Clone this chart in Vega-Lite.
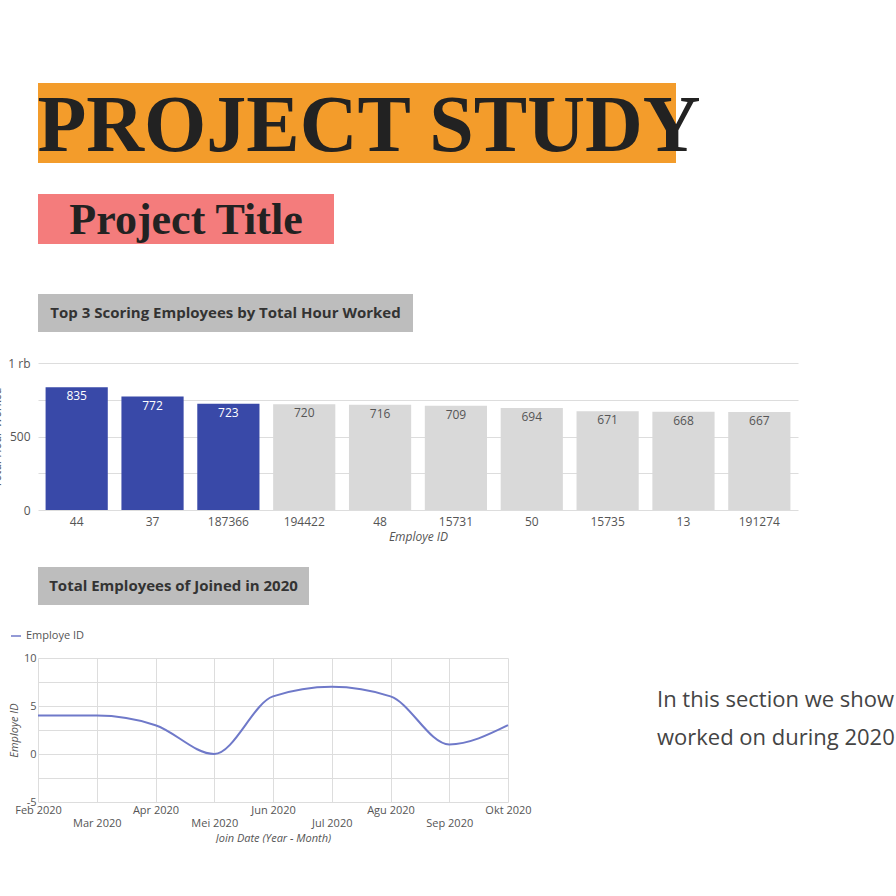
{
  "$schema": "https://vega.github.io/schema/vega-lite/v6.json",
  "background": "white",
  "padding": {"top": 83, "left": -10, "right": 0, "bottom": 0},
  "spacing": 50,
  "resolve": {"scale": {"color": "independent"}},
  "config": {
    "view": {"stroke": null},
    "axis": {"labelColor": "#555", "labelFont": "Open Sans", "labelFontSize": 12, "titleFont": "Open Sans", "titleFontSize": 12, "titleFontStyle": "italic", "titleFontWeight": "normal", "titleColor": "#555", "domain": false, "ticks": false}
  },
  "vconcat": [
    {
      "spacing": 27,
      "vconcat": [
        {
          "width": 638, "height": 80,
          "data": {"values": [{"label": "PROJECT STUDY"}]},
          "layer": [
            {"mark": {"type": "rect", "color": "#f39c2b"}, "encoding": {}},
            {"mark": {"type": "text", "font": "Liberation Serif", "fontWeight": "bold", "fontSize": 80, "color": "#222", "baseline": "middle", "dx": 12, "dy": 4}, "encoding": {"text": {"field": "label"}}}
          ]
        },
        {
          "width": 296, "height": 50,
          "data": {"values": [{"label": "Project Title"}]},
          "layer": [
            {"mark": {"type": "rect", "color": "#f47c7c"}, "encoding": {}},
            {"mark": {"type": "text", "font": "Liberation Serif", "fontWeight": "bold", "fontSize": 44, "color": "#222", "baseline": "middle", "dy": 2}, "encoding": {"text": {"field": "label"}}}
          ]
        }
      ]
    },
    {
      "spacing": 25,
      "resolve": {"scale": {"color": "independent"}},
      "vconcat": [
        {
          "width": 375, "height": 38,
          "data": {"values": [{"label": "Top 3 Scoring Employees by Total Hour Worked"}]},
          "layer": [
            {"mark": {"type": "rect", "color": "#bdbdbd"}, "encoding": {}},
            {"mark": {"type": "text", "font": "Open Sans", "fontWeight": "bold", "fontSize": 15, "color": "#333", "baseline": "middle"}, "encoding": {"text": {"field": "label"}}}
          ]
        },
        {
          "width": 760, "height": 147,
          "data": {"values": [
            {"id": "44", "hours": 835, "top": "yes"},
            {"id": "37", "hours": 772, "top": "yes"},
            {"id": "187366", "hours": 723, "top": "yes"},
            {"id": "194422", "hours": 720, "top": "no"},
            {"id": "48", "hours": 716, "top": "no"},
            {"id": "15731", "hours": 709, "top": "no"},
            {"id": "50", "hours": 694, "top": "no"},
            {"id": "15735", "hours": 671, "top": "no"},
            {"id": "13", "hours": 668, "top": "no"},
            {"id": "191274", "hours": 667, "top": "no"}
          ]},
          "resolve": {"scale": {"color": "independent"}},
          "encoding": {
            "x": {"field": "id", "type": "nominal", "sort": null, "title": "Employe ID", "axis": {"labelAngle": 0, "labelPadding": 6}, "scale": {"paddingInner": 0.18, "paddingOuter": 0.1}},
            "y": {"field": "hours", "type": "quantitative", "title": "Total Hour Worked", "scale": {"domain": [0, 1000]}, "axis": {"values": [0, 250, 500, 750, 1000], "labelExpr": "datum.value == 1000 ? '1 rb' : datum.value % 500 == 0 ? datum.value : ''", "gridColor": "#ddd", "labelPadding": 8}}
          },
          "layer": [
            {"mark": "bar", "encoding": {"color": {"field": "top", "type": "nominal", "scale": {"domain": ["yes", "no"], "range": ["#3949a8", "#d9d9d9"]}, "legend": null}}},
            {"mark": {"type": "text", "baseline": "top", "dy": 4, "font": "Open Sans", "fontSize": 12}, "encoding": {"text": {"field": "hours"}, "color": {"field": "top", "type": "nominal", "scale": {"domain": ["yes", "no"], "range": ["white", "#555"]}, "legend": null}}},
            {"mark": {"type": "rule", "color": "#888"}, "encoding": {"y": {"datum": 0}}}
          ]
        },
        {
          "width": 271, "height": 38,
          "data": {"values": [{"label": "Total Employees of Joined in 2020"}]},
          "layer": [
            {"mark": {"type": "rect", "color": "#bdbdbd"}, "encoding": {}},
            {"mark": {"type": "text", "font": "Open Sans", "fontWeight": "bold", "fontSize": 15, "color": "#333", "baseline": "middle"}, "encoding": {"text": {"field": "label"}}}
          ]
        },
        {
          "spacing": 30,
          "hconcat": [
            {
              "width": 470, "height": 144,
              "data": {"values": [
                {"m": "Feb 2020", "v": 4}, {"m": "Mar 2020", "v": 4}, {"m": "Apr 2020", "v": 3},
                {"m": "Mei 2020", "v": 0}, {"m": "Jun 2020", "v": 6}, {"m": "Jul 2020", "v": 7},
                {"m": "Agu 2020", "v": 6}, {"m": "Sep 2020", "v": 1}, {"m": "Okt 2020", "v": 3}
              ]},
              "encoding": {
                "x": {"field": "m", "type": "ordinal", "sort": null, "title": "Join Date (Year - Month)", "scale": {"type": "point", "padding": 0}, "axis": {"labelAngle": 0, "grid": true, "gridColor": "#ddd", "labelFontSize": 11, "titleFontSize": 11, "labelExpr": "indexof(['Mar 2020','Mei 2020','Jul 2020','Sep 2020'], datum.value) >= 0 ? ['', datum.value] : datum.value"}},
                "y": {"field": "v", "type": "quantitative", "title": "Employe ID", "scale": {"domain": [-5, 10]}, "axis": {"values": [-5, -2.5, 0, 2.5, 5, 7.5, 10], "labelExpr": "datum.value % 5 == 0 ? datum.value : ''", "gridColor": "#ddd", "labelFontSize": 11, "titleFontSize": 11}}
              },
              "layer": [
                {"mark": {"type": "rule", "color": "#333"}, "encoding": {"y": {"datum": 0}}},
                {"mark": {"type": "line", "interpolate": "monotone", "strokeWidth": 2}, "encoding": {"color": {"datum": "Employe ID", "type": "nominal", "scale": {"range": ["#6f79c9"]}, "legend": {"title": null, "orient": "top-left", "offset": -28, "symbolType": "stroke", "labelFont": "Open Sans", "labelFontSize": 11, "labelColor": "#555"}}}}
              ]
            },
            {
              "width": 200, "height": 144,
              "data": {"values": [{"t": "x"}]},
              "mark": {"type": "text", "font": "Open Sans", "fontSize": 22, "color": "#444", "align": "left", "lineHeight": 38, "dx": -5, "dy": -30},
              "encoding": {"text": {"value": ["In this section we show", " worked on during 2020"]}}
            }
          ]
        }
      ]
    }
  ]
}
